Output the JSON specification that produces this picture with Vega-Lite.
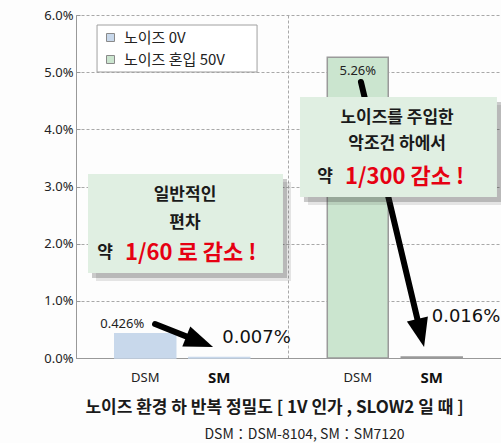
{
  "$schema": "https://vega.github.io/schema/vega-lite/v6.json",
  "width": 425,
  "height": 343,
  "autosize": {"type": "none"},
  "padding": {"left": 76, "top": 15, "right": 0, "bottom": 85},
  "background": "#fdfdfd",
  "config": {"view": {"stroke": null}, "font": "Noto Sans CJK KR"},
  "title": {"text": "DSM：DSM-8104, SM：SM7120", "orient": "bottom", "anchor": "middle", "fontSize": 14, "fontWeight": "normal", "font": "Noto Sans CJK KR", "color": "#222222", "dx": 16, "offset": 13},
  "datasets": {
    "bars": [
      {"group": "노이즈 0V", "model": "DSM", "cv": 0.426, "label": "0.426%"},
      {"group": "노이즈 0V", "model": "SM", "cv": 0.007, "label": "0.007%"},
      {"group": "노이즈 혼입 50V", "model": "DSM", "cv": 5.26, "label": "5.26%"},
      {"group": "노이즈 혼입 50V", "model": "SM", "cv": 0.016, "label": "0.016%"}
    ],
    "legendBox": [{"x0": 0.099, "x1": 0.852, "y0": 5.003, "y1": 5.825}],
    "callouts": [
      {"x0": 0.0565, "x1": 0.974, "y0": 1.487, "y1": 3.218},
      {"x0": 1.054, "x1": 1.981, "y0": 2.816, "y1": 4.565}
    ],
    "calloutText": [
      {"x": 0.513, "y": 2.851, "text": "일반적인"},
      {"x": 0.513, "y": 2.361, "text": "편차"},
      {"x": 1.511, "y": 4.198, "text": "노이즈를 주입한"},
      {"x": 1.511, "y": 3.743, "text": "악조건 하에서"}
    ],
    "calloutYak": [
      {"x": 0.174, "y": 1.837, "text": "약"},
      {"x": 1.209, "y": 3.166, "text": "약"}
    ],
    "calloutRed": [
      {"x": 0.231, "y": 1.837, "text": "1/60 로 감소 !"},
      {"x": 1.266, "y": 3.166, "text": "1/300 감소 !"}
    ],
    "arrows": [
      {"x": 0.372, "y": 0.595, "xe": 0.557, "ye": 0.322, "tx": 0.645, "ty": 0.192, "dir": 111.6},
      {"x": 1.341, "y": 4.828, "xe": 1.616, "ye": 0.533, "tx": 1.638, "ty": 0.192, "dir": 166.6}
    ]
  },
  "resolve": {"scale": {"x": "independent"}},
  "layer": [
    {
      "data": {"name": "bars"},
      "encoding": {
        "x": {"field": "group", "type": "nominal", "scale": {"type": "band", "domain": ["노이즈 0V", "노이즈 혼입 50V"], "paddingInner": 0, "paddingOuter": 0}},
        "xOffset": {"field": "model", "type": "nominal", "scale": {"domain": ["DSM", "SM"], "paddingInner": 0.176, "paddingOuter": 0.524}}
      },
      "layer": [
        {
          "mark": {"type": "bar", "strokeWidth": 1.5},
          "encoding": {
            "x": {"field": "group", "type": "nominal", "axis": {"labels": false, "ticks": false, "domain": true, "domainColor": "#999999", "grid": true, "gridDash": [3, 2], "gridColor": "#a8a8a8", "bandPosition": 0, "title": "노이즈 환경 하 반복 정밀도 [ 1V 인가 , SLOW2 일 때 ]", "titleFont": "Noto Sans CJK KR", "titleFontSize": 17, "titleFontWeight": "bold", "titleColor": "#1a1a1a", "titleX": 198, "titleY": 41, "titleAlign": "center", "titleBaseline": "top"}},
            "y": {"field": "cv", "type": "quantitative", "scale": {"domain": [0, 6], "nice": false, "zero": true}, "axis": {"values": [0, 0.5, 1, 1.5, 2, 2.5, 3, 3.5, 4, 4.5, 5, 5.5, 6], "labelExpr": "datum.value % 1 === 0 ? format(datum.value, '.1f') + '%' : ''", "gridDash": [3, 2], "gridColor": "#a8a8a8", "gridOpacity": {"condition": {"test": "datum.value % 1 !== 0", "value": 0}, "value": 1}, "domainColor": "#999999", "tickColor": "#999999", "tickSize": -4, "labelPadding": 7, "labelFont": "Noto Sans", "labelFontSize": 13, "labelColor": "#222222", "title": "10 pA 측정 시 반복 정밀도 CV 값", "titleFont": "Noto Sans CJK KR", "titleFontSize": 15, "titleFontWeight": "normal", "titleColor": "#1a1a1a", "titleX": -51, "titleY": 220, "titleAlign": "center", "titleBaseline": "middle"}},
            "color": {"field": "group", "type": "nominal", "scale": {"domain": ["노이즈 0V", "노이즈 혼입 50V"], "range": ["#c8d8eb", "#cbe5cf"]}, "legend": {"orient": "none", "legendX": 27, "legendY": 15, "title": null, "symbolType": "square", "symbolSize": 64, "symbolStrokeColor": "#8a8a8a", "symbolStrokeWidth": 1, "symbolOpacity": 1, "labelFont": "Noto Sans CJK KR", "labelFontSize": 15, "labelColor": "#222222", "labelOffset": 6, "rowPadding": 6, "padding": 0}},
            "stroke": {"condition": {"test": "datum.group === '노이즈 혼입 50V'", "value": "#9a9a9a"}, "value": "#c8d8eb"}
          }
        },
        {
          "transform": [{"filter": "datum.group === '노이즈 0V' && datum.model === 'DSM'"}],
          "mark": {"type": "text", "font": "Noto Sans", "fontSize": 13, "color": "#222222", "dx": -23, "dy": -10, "baseline": "middle"},
          "encoding": {"y": {"field": "cv", "type": "quantitative"}, "text": {"field": "label"}}
        },
        {
          "transform": [{"filter": "datum.group === '노이즈 혼입 50V' && datum.model === 'DSM'"}],
          "mark": {"type": "text", "font": "Noto Sans", "fontSize": 13, "color": "#222222", "dy": 14, "baseline": "middle"},
          "encoding": {"y": {"field": "cv", "type": "quantitative"}, "text": {"field": "label"}}
        },
        {
          "transform": [{"filter": "datum.group === '노이즈 0V' && datum.model === 'SM'"}],
          "mark": {"type": "text", "font": "DejaVu Sans", "fontSize": 18, "color": "#111111", "dx": 3, "dy": -20, "align": "left", "baseline": "middle"},
          "encoding": {"y": {"field": "cv", "type": "quantitative"}, "text": {"field": "label"}}
        },
        {
          "transform": [{"filter": "datum.group === '노이즈 혼입 50V' && datum.model === 'SM'"}],
          "mark": {"type": "text", "font": "DejaVu Sans", "fontSize": 18, "color": "#111111", "dx": 0, "dy": -40, "align": "left", "baseline": "middle"},
          "encoding": {"y": {"field": "cv", "type": "quantitative"}, "text": {"field": "label"}}
        },
        {
          "transform": [{"filter": "datum.model === 'DSM'"}],
          "mark": {"type": "text", "font": "Noto Sans", "fontSize": 13, "color": "#222222", "dy": 20, "baseline": "middle"},
          "encoding": {"y": {"datum": 0, "type": "quantitative"}, "text": {"field": "model"}}
        },
        {
          "transform": [{"filter": "datum.model === 'SM'"}],
          "mark": {"type": "text", "font": "Noto Sans", "fontSize": 15, "fontWeight": "bold", "color": "#111111", "dy": 20, "baseline": "middle"},
          "encoding": {"y": {"datum": 0, "type": "quantitative"}, "text": {"field": "model"}}
        }
      ]
    },
    {
      "layer": [
        {
          "data": {"name": "legendBox"},
          "mark": {"type": "rect", "fill": "#ffffff", "stroke": "#a0a0a0", "strokeWidth": 1},
          "encoding": {
            "x": {"field": "x0", "type": "quantitative", "scale": {"domain": [0, 2], "nice": false, "zero": false}, "axis": null},
            "x2": {"field": "x1"},
            "y": {"field": "y0", "type": "quantitative", "title": null},
            "y2": {"field": "y1"}
          }
        },
        {
          "data": {"name": "arrows"},
          "mark": {"type": "rule", "color": "#000000", "strokeWidth": 6, "strokeCap": "round"},
          "encoding": {
            "x": {"field": "x", "type": "quantitative", "axis": null},
            "y": {"field": "y", "type": "quantitative", "title": null},
            "x2": {"field": "xe"},
            "y2": {"field": "ye"}
          }
        },
        {
          "data": {"name": "arrows"},
          "mark": {"type": "point", "shape": "M0,0L-0.9,2.4L0.9,2.4Z", "filled": true, "color": "#000000", "opacity": 1, "size": 576},
          "encoding": {
            "x": {"field": "tx", "type": "quantitative", "axis": null},
            "y": {"field": "ty", "type": "quantitative", "title": null},
            "angle": {"field": "dir", "type": "quantitative", "scale": null}
          }
        },
        {
          "data": {"name": "callouts"},
          "mark": {"type": "rect", "fill": "#333333", "opacity": 0.12, "xOffset": 8, "x2Offset": 8, "yOffset": 8, "y2Offset": 8},
          "encoding": {
            "x": {"field": "x0", "type": "quantitative", "axis": null},
            "x2": {"field": "x1"},
            "y": {"field": "y0", "type": "quantitative", "title": null},
            "y2": {"field": "y1"}
          }
        },
        {
          "data": {"name": "callouts"},
          "mark": {"type": "rect", "fill": "#333333", "opacity": 0.25, "xOffset": 4, "x2Offset": 4, "yOffset": 5, "y2Offset": 5},
          "encoding": {
            "x": {"field": "x0", "type": "quantitative", "axis": null},
            "x2": {"field": "x1"},
            "y": {"field": "y0", "type": "quantitative", "title": null},
            "y2": {"field": "y1"}
          }
        },
        {
          "data": {"name": "callouts"},
          "mark": {"type": "rect", "fill": "#e0efe2"},
          "encoding": {
            "x": {"field": "x0", "type": "quantitative", "axis": null},
            "x2": {"field": "x1"},
            "y": {"field": "y0", "type": "quantitative", "title": null},
            "y2": {"field": "y1"}
          }
        },
        {
          "data": {"name": "calloutText"},
          "mark": {"type": "text", "font": "Noto Sans CJK KR", "fontSize": 17, "fontWeight": "bold", "color": "#1a1a1a", "baseline": "middle", "align": "center"},
          "encoding": {
            "x": {"field": "x", "type": "quantitative", "axis": null},
            "y": {"field": "y", "type": "quantitative", "title": null},
            "text": {"field": "text"}
          }
        },
        {
          "data": {"name": "calloutYak"},
          "mark": {"type": "text", "font": "Noto Sans CJK KR", "fontSize": 17, "fontWeight": "bold", "color": "#1a1a1a", "baseline": "middle", "align": "right"},
          "encoding": {
            "x": {"field": "x", "type": "quantitative", "axis": null},
            "y": {"field": "y", "type": "quantitative", "title": null},
            "text": {"field": "text"}
          }
        },
        {
          "data": {"name": "calloutRed"},
          "mark": {"type": "text", "font": "Noto Sans CJK KR", "fontSize": 22, "fontWeight": "bold", "color": "#e60012", "baseline": "middle", "align": "left"},
          "encoding": {
            "x": {"field": "x", "type": "quantitative", "axis": null},
            "y": {"field": "y", "type": "quantitative", "title": null},
            "text": {"field": "text"}
          }
        }
      ]
    }
  ]
}
